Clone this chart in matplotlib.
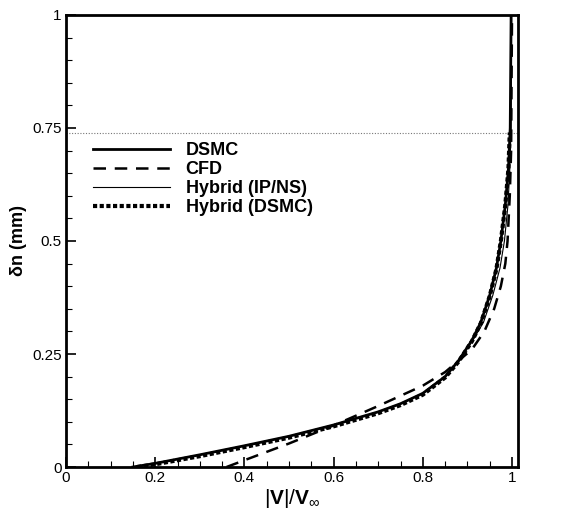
import matplotlib
matplotlib.use("Agg")
import matplotlib.pyplot as plt
from matplotlib.ticker import MultipleLocator, FixedLocator

plt.rcParams['font.family'] = ['Liberation Sans', 'DejaVu Sans']
plt.rcParams['mathtext.fontset'] = 'custom'
plt.rcParams['mathtext.rm'] = 'Liberation Sans'
plt.rcParams['mathtext.bf'] = 'Liberation Sans:bold'

# DSMC
dsmc_x = [0.15, 0.2, 0.3, 0.4, 0.5, 0.6, 0.7, 0.75, 0.8, 0.85, 0.88, 0.91, 0.93, 0.95, 0.965, 0.975, 0.985, 0.992, 0.996, 0.998]
dsmc_y = [0.0, 0.008, 0.027, 0.047, 0.068, 0.093, 0.122, 0.14, 0.163, 0.2, 0.235, 0.28, 0.32, 0.38, 0.44, 0.5, 0.58, 0.66, 0.75, 1.0]
# CFD
cfd_x = [0.36, 0.4, 0.5, 0.6, 0.7, 0.8, 0.85, 0.88, 0.91, 0.938, 0.96, 0.975, 0.985, 0.99, 0.995, 0.998, 0.999, 1.0]
cfd_y = [0.0, 0.015, 0.052, 0.092, 0.135, 0.18, 0.21, 0.235, 0.26, 0.3, 0.35, 0.4, 0.45, 0.5, 0.6, 0.7, 0.85, 1.0]
# Hybrid (IP/NS)
hip_x = [0.15, 0.2, 0.3, 0.4, 0.5, 0.6, 0.7, 0.75, 0.8, 0.85, 0.88, 0.912, 0.936, 0.957, 0.973, 0.983, 0.991, 0.995, 0.998, 0.999]
hip_y = [0.0, 0.008, 0.027, 0.047, 0.068, 0.093, 0.122, 0.14, 0.163, 0.2, 0.235, 0.28, 0.32, 0.38, 0.44, 0.5, 0.58, 0.66, 0.75, 1.0]
# Hybrid (DSMC)
hds_x = [0.16, 0.2, 0.3, 0.4, 0.5, 0.6, 0.7, 0.75, 0.8, 0.85, 0.88, 0.91, 0.93, 0.95, 0.965, 0.975, 0.985, 0.992, 0.995]
hds_y = [0.0, 0.006, 0.024, 0.044, 0.065, 0.09, 0.119, 0.137, 0.16, 0.198, 0.233, 0.278, 0.318, 0.378, 0.438, 0.5, 0.58, 0.66, 0.74]

ref_level = 0.74

fig = plt.figure(figsize=(5.77, 5.17), dpi=100)
ax = fig.add_axes([0.1144, 0.0967, 0.7834, 0.8743])

ax.axhline(ref_level, color='#777777', lw=0.8, ls=(0, (1, 1.5)))
ax.plot(dsmc_x, dsmc_y, color='black', lw=2.0, label='DSMC')
ax.plot(cfd_x, cfd_y, color='black', lw=1.8, ls=(0, (5, 3.5)), label='CFD')
ax.plot(hip_x, hip_y, color='black', lw=0.8, label='Hybrid (IP/NS)')
ax.plot(hds_x, hds_y, color='black', lw=3.0, ls=(0, (1, 0.6)), label='Hybrid (DSMC)')

ax.set_xlim(0, 1.0135)
ax.set_ylim(0, 1)
ax.xaxis.set_major_locator(FixedLocator([0, 0.2, 0.4, 0.6, 0.8, 1.0]))
ax.xaxis.set_minor_locator(MultipleLocator(0.05))
ax.yaxis.set_major_locator(FixedLocator([0, 0.25, 0.5, 0.75, 1.0]))
ax.yaxis.set_minor_locator(MultipleLocator(0.05))
ax.set_xticklabels(['0', '0.2', '0.4', '0.6', '0.8', '1'])
ax.set_yticklabels(['0', '0.25', '0.5', '0.75', '1'])
ax.tick_params(which='both', direction='in', top=False, right=False, labelsize=11, pad=3)
ax.tick_params(which='major', length=7, width=1.2)
ax.tick_params(which='minor', length=4, width=0.8)
for s in ax.spines.values():
    s.set_linewidth(2.0)

ax.set_xlabel(r'$|\mathbf{V}|/\mathbf{V}_{\infty}$', fontsize=15, labelpad=1)
ax.set_ylabel('δn (mm)', fontsize=13, fontweight='bold', labelpad=4)

leg = ax.legend(loc='upper left', bbox_to_anchor=(0.043, 0.735), frameon=False,
                prop={'weight': 'bold', 'size': 13}, handlelength=4.3,
                handletextpad=0.85, labelspacing=0.12, borderaxespad=0)

fig.savefig('out.png', dpi=100)
